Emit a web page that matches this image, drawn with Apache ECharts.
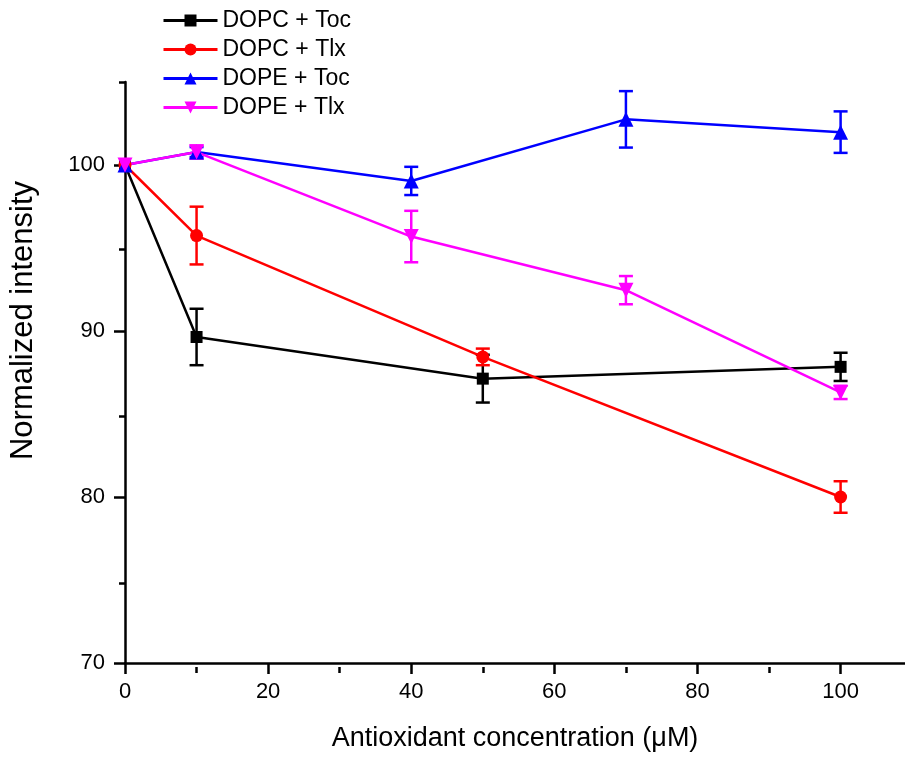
<!DOCTYPE html>
<html>
<head>
<meta charset="utf-8">
<script src="https://cdn.jsdelivr.net/npm/echarts@6/dist/echarts.min.js"></script>
<style>html,body{margin:0;padding:0;background:#fff;overflow:hidden}#c{width:905px;height:757px}</style>
</head>
<body>
<div id="c"></div>
<script>
// ---- data ----
const seriesNames = ['DOPC + Toc', 'DOPC + Tlx', 'DOPE + Toc', 'DOPE + Tlx'];
const xDOPCToc = [0, 10, 50, 100];
const yDOPCToc = [100, 89.64, 87.13, 87.84];
const eDOPCToc = [0, 1.7, 1.44, 0.85];
const xDOPCTlx = [0, 10, 50, 100];
const yDOPCTlx = [100, 95.75, 88.44, 80.0];
const eDOPCTlx = [0, 1.74, 0.5, 0.95];
const xDOPEToc = [0, 10, 40, 70, 100];
const yDOPEToc = [100, 100.78, 99.04, 102.75, 101.98];
const eDOPEToc = [0, 0.3, 0.85, 1.7, 1.25];
const xDOPETlx = [0, 10, 40, 70, 100];
const yDOPETlx = [100, 100.78, 95.69, 92.46, 86.3];
const eDOPETlx = [0, 0.4, 1.55, 0.85, 0.4];
const xMajorTicks = [0, 20, 40, 60, 80, 100];
const xMinorTicks = [10, 30, 50, 70, 90];
const yMajorTicks = [70, 80, 90, 100];
const yMinorTicks = [75, 85, 95, 105];

const colors = ['#000000', '#ff0000', '#0000ff', '#ff00ff'];
const symbols = ['rect', 'circle', 'triangle', 'triangle'];
const symbolSizes = [12, 13, 15, 15];
const rotates = [0, 0, 0, 180];
const xs = [xDOPCToc, xDOPCTlx, xDOPEToc, xDOPETlx];
const ys = [yDOPCToc, yDOPCTlx, yDOPEToc, yDOPETlx];
const es = [eDOPCToc, eDOPCTlx, eDOPEToc, eDOPETlx];

const FONT = '"Liberation Sans", Arial, sans-serif';
const gridPos = { left: 125, top: 82, bottom: 90, right: 0 };

const series = [];
// error bars
for (let i = 0; i < 4; i++) {
  series.push({
    type: 'custom',
    xAxisIndex: 0, yAxisIndex: 0,
    z: 2,
    clip: false,
    data: xs[i].map((x, k) => [x, ys[i][k], es[i][k]]),
    renderItem: function (params, api) {
      const x = api.value(0), y = api.value(1), e = api.value(2);
      if (!e) return null;
      const top = api.coord([x, y + e]);
      const bot = api.coord([x, y - e]);
      const w = 7;
      const st = { stroke: colors[i], lineWidth: 2.5 };
      return {
        type: 'group',
        children: [
          { type: 'line', shape: { x1: top[0], y1: top[1], x2: bot[0], y2: bot[1] }, style: st },
          { type: 'line', shape: { x1: top[0] - w, y1: top[1], x2: top[0] + w, y2: top[1] }, style: st },
          { type: 'line', shape: { x1: bot[0] - w, y1: bot[1], x2: bot[0] + w, y2: bot[1] }, style: st }
        ]
      };
    },
    silent: true
  });
}
// lines
for (let i = 0; i < 4; i++) {
  series.push({
    name: seriesNames[i],
    type: 'line',
    xAxisIndex: 0, yAxisIndex: 0,
    z: 3,
    clip: false,
    data: xs[i].map((x, k) => [x, ys[i][k]]),
    symbol: symbols[i],
    symbolSize: symbolSizes[i],
    symbolRotate: rotates[i],
    showAllSymbol: true,
    color: colors[i],
    lineStyle: { color: colors[i], width: 2.5 },
    itemStyle: { color: colors[i] },
    animation: false
  });
}

const chart = echarts.init(document.getElementById('c'), null, { renderer: 'canvas', width: 905, height: 757 });
chart.setOption({
  animation: false,
  backgroundColor: '#ffffff',
  grid: [Object.assign({}, gridPos), Object.assign({}, gridPos)],
  legend: {
    data: seriesNames,
    orient: 'vertical',
    left: 157,
    top: 4,
    itemWidth: 54,
    itemHeight: 15,
    itemGap: 6,
    lineStyle: { width: 3 },
    textStyle: { fontFamily: FONT, fontSize: 23, color: '#000' },
    selectedMode: false
  },
  xAxis: [
    {
      gridIndex: 0, type: 'value', min: 0, max: 109, interval: 20,
      name: 'Antioxidant concentration (μM)',
      nameLocation: 'middle', nameGap: 62,
      nameTextStyle: { fontFamily: FONT, fontSize: 27, color: '#000' },
      axisLine: { show: true, onZero: false, lineStyle: { color: '#000', width: 2.5 } },
      axisTick: { show: true, customValues: xMajorTicks, length: 11, lineStyle: { color: '#000', width: 2.5 } },
      axisLabel: { customValues: xMajorTicks, fontFamily: FONT, fontSize: 22, color: '#000', margin: 18 },
      splitLine: { show: false }
    },
    {
      gridIndex: 1, type: 'value', min: 0, max: 109, interval: 10,
      axisLine: { show: false, onZero: false },
      axisTick: { show: true, customValues: xMinorTicks, length: 6, lineStyle: { color: '#000', width: 2.5 } },
      axisLabel: { show: false },
      splitLine: { show: false }
    }
  ],
  yAxis: [
    {
      gridIndex: 0, type: 'value', min: 70, max: 105, interval: 10,
      name: 'Normalized intensity',
      nameLocation: 'middle', nameGap: 86,
      nameTextStyle: { fontFamily: FONT, fontSize: 31, color: '#000', padding: [0, 0, 0, 104] },
      axisLine: { show: true, onZero: false, lineStyle: { color: '#000', width: 2.5 } },
      axisTick: { show: true, customValues: yMajorTicks, length: 11, lineStyle: { color: '#000', width: 2.5 } },
      axisLabel: { customValues: yMajorTicks, fontFamily: FONT, fontSize: 22, color: '#000', margin: 20 },
      splitLine: { show: false }
    },
    {
      gridIndex: 1, type: 'value', min: 70, max: 105, interval: 5,
      axisLine: { show: false, onZero: false },
      axisTick: { show: true, customValues: yMinorTicks, length: 6, lineStyle: { color: '#000', width: 2.5 } },
      axisLabel: { show: false },
      splitLine: { show: false }
    }
  ],
  series: series
});
</script>
</body>
</html>
